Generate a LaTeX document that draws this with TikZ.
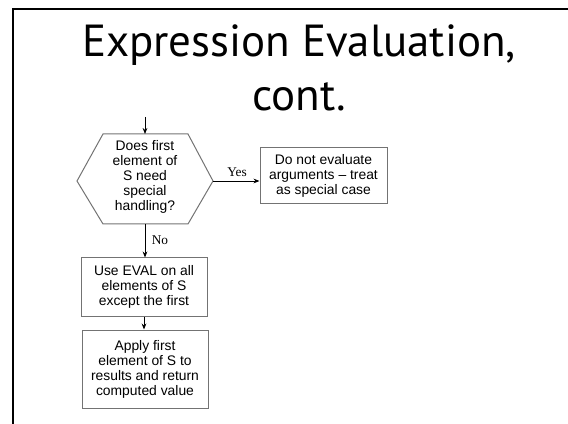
\documentclass[tikz,border=0pt]{standalone}
\usepackage{fontspec}
\setmainfont{Liberation Sans}
\newfontfamily\titlefont{PT Sans}
\newfontfamily\lblfont{Liberation Serif}
\usetikzlibrary{arrows.meta}
\begin{document}
\begin{tikzpicture}[x=0.75pt,y=-0.75pt,
  box/.style={draw=black!55, line width=0.75pt, align=center, inner sep=0pt,
    font=\fontsize{10.4}{11.25}\selectfont},
  hextext/.style={align=center, inner sep=0pt, font=\fontsize{10.4}{11.25}\selectfont},
  shapeline/.style={draw=black!55, line width=0.75pt},
  conn/.style={-{Stealth[length=4.5pt,width=3.5pt]}, line width=0.6pt},
  lbl/.style={inner sep=0pt, font=\lblfont\fontsize{10}{12}\selectfont},
  ttl/.style={inner sep=0pt, anchor=base, font=\titlefont\fontsize{33.7}{40}\selectfont}]
\useasboundingbox (0,0) rectangle (568,424);
\draw[line width=2.2pt] (13,424) -- (13,9) -- (568,9);
\node[ttl] (t1) at (299,57) {Expression Evaluation,};
\node[ttl] (t2) at (299,111) {cont.};
% decision hexagon
\coordinate (qt) at (145,134);
\coordinate (qb) at (145,224);
\coordinate (qr) at (213,181);
\coordinate (ql) at (77,181);
\draw[shapeline] (103,134) -- (188,134) -- (qr) -- (188,224) -- (103,224) -- (ql) -- cycle;
\node[hextext] (q) at (145,177) {Does first\\element of\\S need\\special\\handling?};
% boxes
\node[box, minimum width=95.25pt, minimum height=42pt] (yes) at (323.5,176)
  {Do not evaluate\\arguments -- treat\\as special case};
\node[box, minimum width=94.5pt, minimum height=43.5pt] (b1) at (144,287)
  {Use EVAL on all\\elements of S\\except the first};
\node[box, minimum width=94.5pt, minimum height=58.5pt] (b2) at (145,369)
  {Apply first\\element of S to\\results and return\\computed value};
% connectors
\coordinate (s0) at (145,117);
\draw[conn] (s0) -- (qt);
\draw[conn] (qr) -- (qr -| yes.west);
\draw[conn] (qb) -- (qb |- b1.north);
\draw[conn] (b1.south) -- (b1.south |- b2.north);
\node[lbl] (yl) at (237,172) {Yes};
\node[lbl] (nl) at (160,240) {No};
\end{tikzpicture}
\end{document}
